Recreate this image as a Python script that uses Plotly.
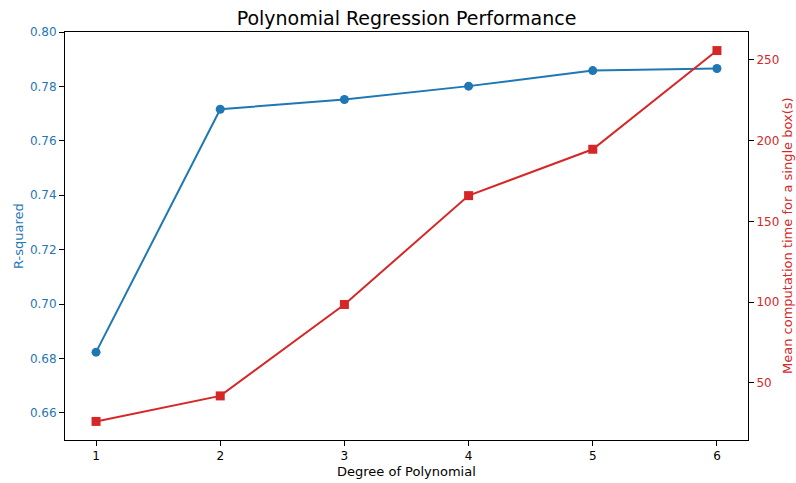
import plotly.graph_objects as go

degrees = [1, 2, 3, 4, 5, 6]
r_squared = [0.6823, 0.7716, 0.7752, 0.7801, 0.7858, 0.7866]
comp_time = [26.2, 42.0, 98.6, 166.0, 194.7, 255.8]

blue = "#1f77b4"
red = "#d62728"
font = "DejaVu Sans"

L, R, T, B = 65, 48, 32, 43
W, H = 796, 483
pw = W - L - R
ph = H - T - B

fig = go.Figure()
fig.add_trace(go.Scatter(
    x=degrees, y=r_squared, mode="lines+markers", name="R-squared",
    line=dict(color=blue, width=2), marker=dict(color=blue, size=9, symbol="circle"),
    yaxis="y"))
fig.add_trace(go.Scatter(
    x=degrees, y=comp_time, mode="lines+markers", name="Time",
    line=dict(color=red, width=2), marker=dict(color=red, size=9, symbol="square"),
    yaxis="y2"))

fig.update_layout(
    width=W, height=H,
    margin=dict(l=L, r=R, t=T, b=B, autoexpand=False),
    paper_bgcolor="white", plot_bgcolor="white",
    showlegend=False,
    font=dict(family=font, size=13, color="black"),
    title=dict(text="Polynomial Regression Performance", x=0.5, xref="paper", xanchor="center",
               y=1 - 18 / H, yref="container", yanchor="middle",
               font=dict(family=font, size=19, color="black")),
    xaxis=dict(range=[0.75, 6.25], tickmode="array", tickvals=degrees, ticktext=[str(d) for d in degrees],
               showgrid=False, zeroline=False, showline=True, linecolor="black", linewidth=1,
               mirror=True, ticks="outside", ticklen=5, tickcolor="black",
               tickfont=dict(size=12), automargin=False),
    yaxis=dict(range=[0.65, 0.80], tick0=0.66, dtick=0.02, tickformat=".2f",
               showgrid=False, zeroline=False, showline=True, linecolor="black", linewidth=1,
               ticks="outside", ticklen=5, tickcolor="black", automargin=False,
               tickfont=dict(size=12, color=blue)),
    yaxis2=dict(range=[14.7, 267.3], tick0=50, dtick=50, overlaying="y", side="right",
                showgrid=False, zeroline=False, showline=True, linecolor="black", linewidth=1,
                ticks="outside", ticklen=5, tickcolor="black", automargin=False,
                tickfont=dict(size=12, color=red)),
    annotations=[
        dict(text="Degree of Polynomial", xref="paper", yref="paper",
             x=0.5, y=-(471 - (T + ph)) / ph, xanchor="center", yanchor="middle", showarrow=False,
             font=dict(size=13, color="black")),
        dict(text="R-squared", textangle=-90, xref="paper", yref="paper",
             x=(18 - L) / pw, y=0.5, xanchor="center", yanchor="middle", showarrow=False,
             font=dict(size=13, color=blue)),
        dict(text="Mean computation time for a single box(s)", textangle=-90, xref="paper", yref="paper",
             x=(787 - L) / pw, y=0.5, xanchor="center", yanchor="middle", showarrow=False,
             font=dict(size=13, color=red)),
    ],
)

fig.write_html("out.html", config={"displayModeBar": False},
               post_script="document.body.style.margin='0';")
